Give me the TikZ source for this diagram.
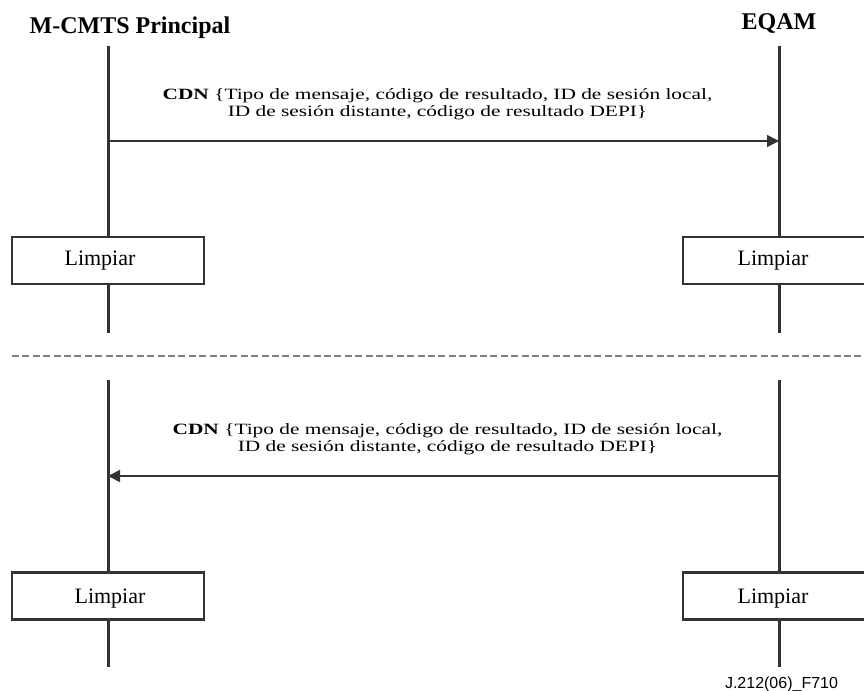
\documentclass[tikz,border=0pt]{standalone}
\usepackage{fontspec}
\setmainfont{Liberation Serif}
\newfontfamily\msgfont[FakeStretch=1.36]{Liberation Serif}
\newfontfamily\tagfont{Liberation Sans}
\usetikzlibrary{arrows.meta}
\definecolor{ink}{HTML}{333333}
\begin{document}
\begin{tikzpicture}[x=0.5pt,y=-0.5pt,
  lifeline/.style={draw=ink,line width=1.5pt},
  actionbox/.style={draw=ink,line width=1.2pt,fill=white,minimum width=96pt,minimum height=23.5pt,
    inner sep=0pt,font=\fontsize{11}{13}\selectfont},
  msgarrow/.style={draw=ink,line width=0.7pt,-{Triangle[length=6pt,width=6pt]}},
  msgtext/.style={align=center,inner sep=0pt,anchor=base,font=\msgfont\fontsize{7.85}{8.4}\selectfont},
  boxlabel/.style={anchor=base,inner sep=0pt,font=\fontsize{11}{13}\selectfont},
  title/.style={anchor=base,inner sep=0pt,font=\bfseries\fontsize{12}{14}\selectfont},
  separator/.style={draw=gray,line width=0.9pt,dash pattern=on 3.5pt off 1.7pt}]
\useasboundingbox (0,0) rectangle (864,691);

% column headings
\node[title] (hA) at (130,33) {M-CMTS Principal};
\node[title] (hB) at (779,29) {EQAM};

% first phase: lifelines
\coordinate (a1t) at (108,46);
\coordinate (a1b) at (108,333);
\coordinate (b1t) at (779,46);
\coordinate (b1b) at (779,333);
\draw[lifeline] (a1t) -- (a1b);
\draw[lifeline] (b1t) -- (b1b);

% first phase: message
\coordinate (m1s) at (108,141);
\coordinate (m1e) at (779,141);
\draw[msgarrow] (m1s) -- (m1e);
\node[msgtext] (t1a) at (437.5,99) {\textbf{CDN} \{Tipo de mensaje, código de resultado, ID de sesión local,};
\node[msgtext] (t1b) at (437.5,116) {ID de sesión distante, código de resultado DEPI\}};

% first phase: clear boxes
\node[actionbox] (c1a) at (108,260.5) {};
\node[boxlabel] (l1a) at (100,265.5) {Limpiar};
\node[actionbox] (c1b) at (779,260.5) {};
\node[boxlabel] (l1b) at (773,265.5) {Limpiar};

% divider
\coordinate (d1) at (12,356);
\coordinate (d2) at (866,356);
\draw[separator] (d1) -- (d2);

% second phase: lifelines
\coordinate (a2t) at (108,380);
\coordinate (a2b) at (108,667);
\coordinate (b2t) at (779,380);
\coordinate (b2b) at (779,667);
\draw[lifeline] (a2t) -- (a2b);
\draw[lifeline] (b2t) -- (b2b);

% second phase: message
\coordinate (m2s) at (779,476);
\coordinate (m2e) at (108,476);
\draw[msgarrow] (m2s) -- (m2e);
\node[msgtext] (t2a) at (447.5,434) {\textbf{CDN} \{Tipo de mensaje, código de resultado, ID de sesión local,};
\node[msgtext] (t2b) at (447.5,451) {ID de sesión distante, código de resultado DEPI\}};

% second phase: clear boxes
\node[actionbox] (c2a) at (108,596) {};
\node[boxlabel] (l2a) at (110,603) {Limpiar};
\node[actionbox] (c2b) at (779,596) {};
\node[boxlabel] (l2b) at (773,603) {Limpiar};

% figure tag
\node[anchor=base,inner sep=0pt,font=\tagfont\fontsize{8}{9}\selectfont] (tag) at (781.5,688) {J.212(06)\_F710};
\end{tikzpicture}
\end{document}
